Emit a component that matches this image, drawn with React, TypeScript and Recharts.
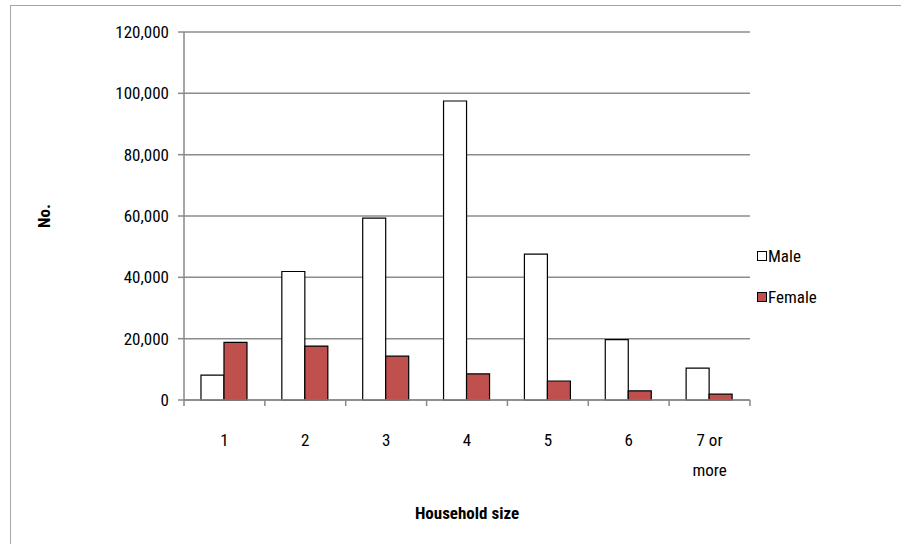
import React from "react"
import { BarChart, Bar, XAxis, YAxis, CartesianGrid, Label } from "recharts"

const sizes = ["1", "2", "3", "4", "5", "6", "7 or more"]
const male = [8100, 41900, 59300, 97500, 47600, 19700, 10400]
const female = [18800, 17600, 14300, 8500, 6200, 3000, 1900]
const yTicks = [0, 20000, 40000, 60000, 80000, 100000, 120000]
const series = [
  { name: "Male", fill: "#ffffff" },
  { name: "Female", fill: "#C0504D" },
]

const data = sizes.map((s, i) => ({ size: s, Male: male[i], Female: female[i] }))

const FONT = "'Liberation Sans Narrow', 'Roboto Condensed', 'Liberation Sans', Arial, sans-serif"
const W = 901
const H = 544
const M = { top: 32, right: 151, bottom: 0, left: 0 }
const BAND = (W - 184 - M.right) / sizes.length

const XTick = (props: any) => {
  const { x, y, payload, index } = props
  const lines = String(payload.value) === "7 or more" ? ["7 or", "more"] : [String(payload.value)]
  return (
    <g>
      <line x1={x - BAND / 2} x2={x - BAND / 2} y1={y - 8} y2={y - 2} stroke="#888" strokeWidth={1.5} />
      {index === sizes.length - 1 && (
        <line x1={x + BAND / 2} x2={x + BAND / 2} y1={y - 8} y2={y - 2} stroke="#888" strokeWidth={1.5} />
      )}
      <text x={x} y={y + 38} textAnchor="middle" fontSize={17} fill="#000" fontFamily={FONT}>
        {lines.map((l, i) => (
          <tspan key={i} x={x} dy={i === 0 ? 0 : 30}>{l}</tspan>
        ))}
      </text>
    </g>
  )
}

const LegendBox = () => (
  <div style={{ position: "absolute", left: 757, top: 235, fontFamily: FONT, fontSize: 17, color: "#000" }}>
    {series.map((it) => (
      <div key={it.name} style={{ display: "flex", alignItems: "center", height: 41 }}>
        <span style={{ display: "inline-block", width: 8, height: 8, border: "1px solid #000", background: it.fill, marginRight: 1 }} />
        <span>{it.name}</span>
      </div>
    ))}
  </div>
)

export default function App() {
  return (
    <div style={{ position: "fixed", left: 0, top: 0, width: W, height: H, overflow: "hidden", background: "#fff" }}>
      <div style={{ position: "absolute", left: 10, top: 5, width: 1000, height: 700, border: "1px solid #a6a6a6" }} />
      <div style={{ position: "absolute", left: 0, top: 0 }}>
        <BarChart width={W} height={H} data={data} margin={M} barGap={0} barCategoryGap="21%">
          <CartesianGrid vertical={false} stroke="#8c8c8c" strokeWidth={1.5} />
          <XAxis
            dataKey="size"
            height={144}
            stroke="#888"
            strokeWidth={1.5}
            tickLine={false}
            interval={0}
            tick={<XTick />}
          >
            <Label
              value="Household size"
              position="insideBottom"
              offset={25}
              style={{ fontFamily: FONT, fontSize: 17, fontWeight: "bold", fill: "#000" }}
            />
          </XAxis>
          <YAxis
            width={184}
            domain={[0, 120000]}
            ticks={yTicks}
            interval={0}
            stroke="#888"
            strokeWidth={1.5}
            tickSize={6}
            tickMargin={9}
            tickFormatter={(v: number) => v.toLocaleString("en-US")}
            tick={{ fontFamily: FONT, fontSize: 17, fill: "#000" }}
          >
            <Label
              content={() => (
                <text x={44} y={216} transform="rotate(-90 44 216)" textAnchor="middle" dominantBaseline="central"
                  fontFamily={FONT} fontSize={17} fontWeight="bold" fill="#000">No.</text>
              )}
            />
          </YAxis>
          <Bar dataKey="Male" fill={series[0].fill} stroke="#000" strokeWidth={1.2} isAnimationActive={false} />
          <Bar dataKey="Female" fill={series[1].fill} stroke="#000" strokeWidth={1.2} isAnimationActive={false} />
        </BarChart>
      </div>
      <LegendBox />
    </div>
  )
}
